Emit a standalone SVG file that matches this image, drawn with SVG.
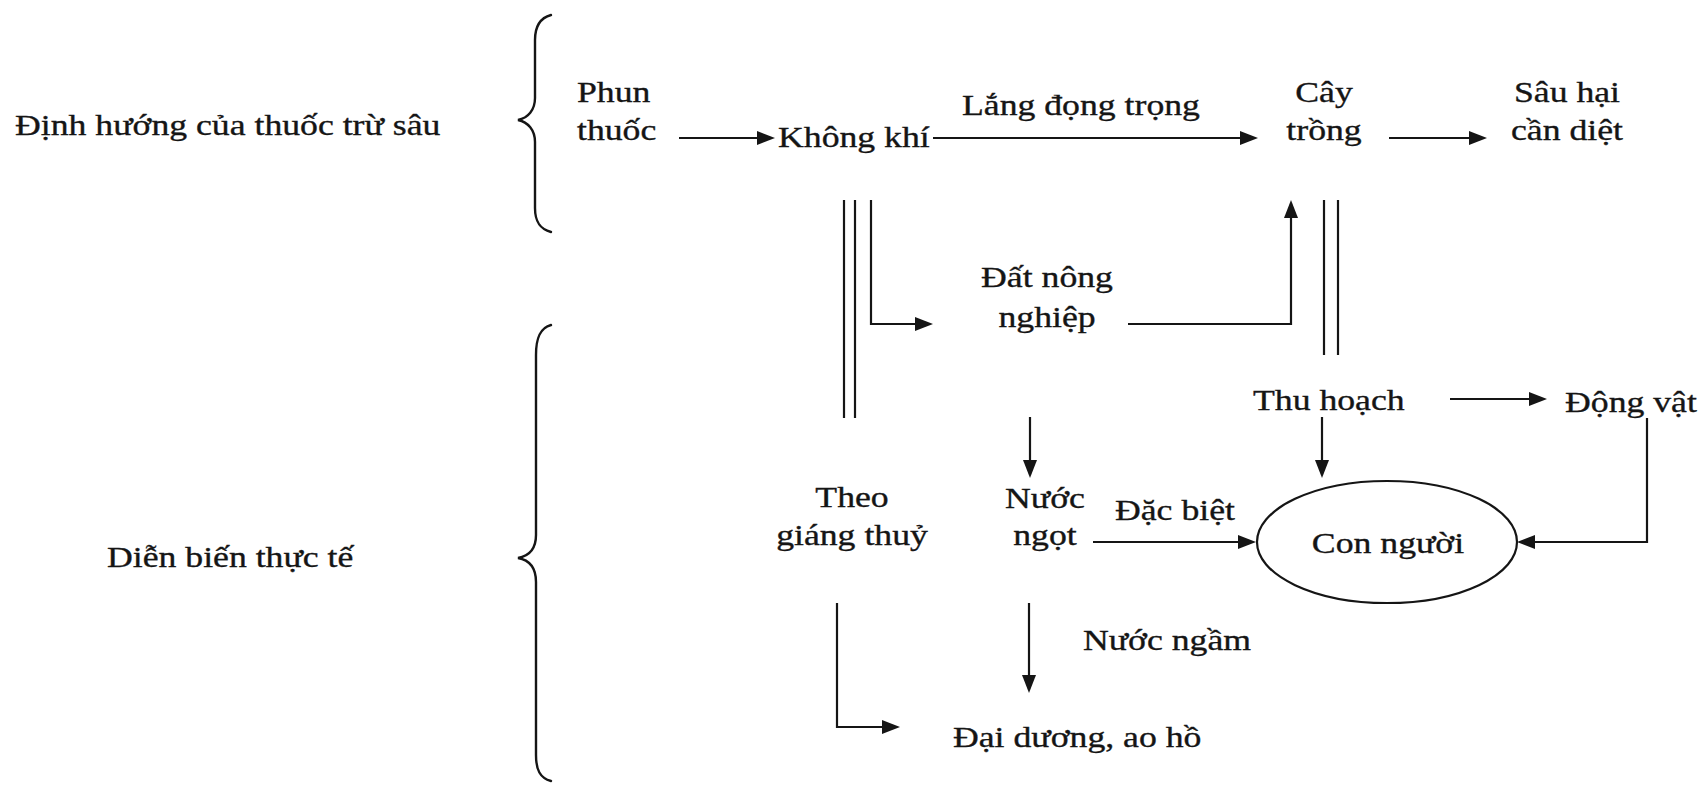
<svg xmlns="http://www.w3.org/2000/svg" width="1698" height="785" viewBox="0 0 1698 785">
  <style>
    text { font-family: "Liberation Serif", "Times New Roman", serif; font-size: 30px; fill: #151515; stroke: #151515; stroke-width: 0.35; }
    .c { text-anchor: middle; }
    .ln { fill: none; stroke: #151515; stroke-width: 2.2; }
    .ar { marker-end: url(#ah); }
    .brace { fill: none; stroke: #151515; stroke-width: 2.4; stroke-linecap: round; }
  </style>
  <defs>
    <marker id="ah" markerUnits="userSpaceOnUse" markerWidth="18" markerHeight="14" refX="14" refY="7" orient="auto">
      <path d="M0,0 L18,7 L0,14 z" fill="#151515"/>
    </marker>
  </defs>
  <rect width="1698" height="785" fill="#ffffff"/>

  <!-- section labels and braces -->
  <g id="label-intended">
    <text transform="matrix(1.19 0 0 1 15 135)">Định hướng của thuốc trừ sâu</text>
    <path class="brace" d="M551,15 C540,18 535,26 535,40 L535,98 C535,110 528,118 518,120 C528,122 535,130 535,142 L535,208 C535,222 540,229 551,232"/>
  </g>
  <g id="label-actual">
    <text transform="matrix(1.19 0 0 1 107 567)">Diễn biến thực tế</text>
    <path class="brace" d="M551,325 C540,328 536,338 536,355 L536,535 C536,550 529,556 518,558 C529,560 536,567 536,582 L536,755 C536,770 540,778 551,781"/>
  </g>

  <!-- nodes -->
  <g id="n-phun">
    <text transform="matrix(1.19 0 0 1 577 102)">Phun</text>
    <text transform="matrix(1.19 0 0 1 577 140)">thuốc</text>
  </g>
  <g id="n-khongkhi">
    <text transform="matrix(1.19 0 0 1 778 147)">Không khí</text>
  </g>
  <g id="n-caytrong">
    <text class="c" transform="matrix(1.19 0 0 1 1324 102)">Cây</text>
    <text class="c" transform="matrix(1.19 0 0 1 1324 140)">trồng</text>
  </g>
  <g id="n-sauhai">
    <text class="c" transform="matrix(1.19 0 0 1 1567 102)">Sâu hại</text>
    <text class="c" transform="matrix(1.19 0 0 1 1567 140)">cần diệt</text>
  </g>
  <g id="n-datnongnghiep">
    <text class="c" transform="matrix(1.19 0 0 1 1047 287)">Đất nông</text>
    <text class="c" transform="matrix(1.19 0 0 1 1047 327)">nghiệp</text>
  </g>
  <g id="n-thuhoach">
    <text transform="matrix(1.19 0 0 1 1253 410)">Thu hoạch</text>
  </g>
  <g id="n-dongvat">
    <text transform="matrix(1.19 0 0 1 1565 412)">Động vật</text>
  </g>
  <g id="n-giangthuy">
    <text class="c" transform="matrix(1.19 0 0 1 852 507)">Theo</text>
    <text class="c" transform="matrix(1.19 0 0 1 852 545)">giáng thuỷ</text>
  </g>
  <g id="n-nuocngot">
    <text class="c" transform="matrix(1.19 0 0 1 1045 508)">Nước</text>
    <text class="c" transform="matrix(1.19 0 0 1 1045 545)">ngọt</text>
  </g>
  <g id="n-connguoi">
    <ellipse cx="1387" cy="542" rx="130" ry="61" fill="none" stroke="#151515" stroke-width="2.2"/>
    <text class="c" transform="matrix(1.19 0 0 1 1388 553)">Con người</text>
  </g>
  <g id="n-daiduong">
    <text transform="matrix(1.19 0 0 1 953 747)">Đại dương, ao hồ</text>
  </g>

  <!-- connectors -->
  <g id="connectors">
    <line class="ln ar" x1="679" y1="138" x2="771" y2="138"/>
    <line class="ln ar" x1="933" y1="138" x2="1254" y2="138"/>
    <text transform="matrix(1.19 0 0 1 962 115)">Lắng đọng trọng</text>
    <line class="ln ar" x1="1389" y1="138" x2="1483" y2="138"/>

    <line class="ln" x1="844" y1="200" x2="844" y2="418"/>
    <line class="ln" x1="855" y1="200" x2="855" y2="418"/>
    <polyline class="ln ar" points="871,200 871,324 929,324"/>

    <polyline class="ln ar" points="1128,324 1291,324 1291,204"/>
    <line class="ln" x1="1324" y1="200" x2="1324" y2="355"/>
    <line class="ln" x1="1338" y1="200" x2="1338" y2="355"/>

    <line class="ln ar" x1="1450" y1="399" x2="1543" y2="399"/>
    <line class="ln ar" x1="1322" y1="417" x2="1322" y2="474"/>
    <polyline class="ln ar" points="1647,418 1647,542 1521,542"/>

    <line class="ln ar" x1="1030" y1="417" x2="1030" y2="474"/>
    <line class="ln ar" x1="1093" y1="542" x2="1252" y2="542"/>
    <text transform="matrix(1.19 0 0 1 1115 520)">Đặc biệt</text>

    <line class="ln ar" x1="1029" y1="603" x2="1029" y2="689"/>
    <text transform="matrix(1.19 0 0 1 1083 650)">Nước ngầm</text>
    <polyline class="ln ar" points="837,603 837,727 896,727"/>
  </g>
</svg>
